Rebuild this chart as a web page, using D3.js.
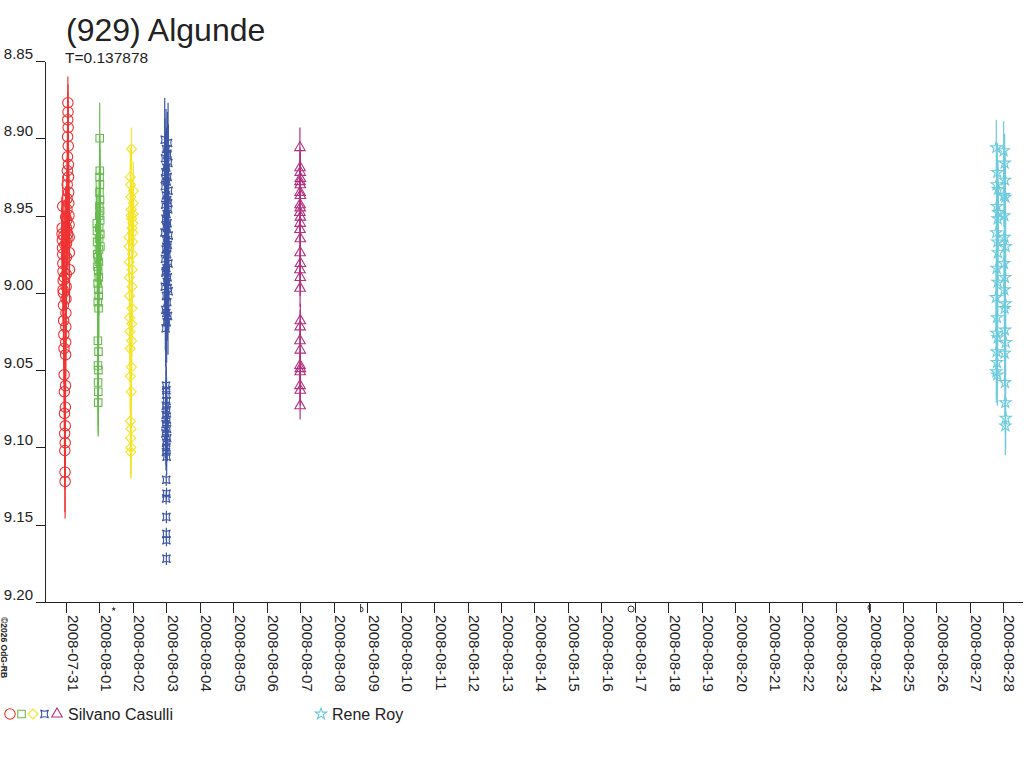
<!DOCTYPE html>
<html>
<head>
<meta charset="utf-8">
<script src="https://cdn.jsdelivr.net/npm/d3@7"></script>
<style>
  body{margin:0;background:#fff;}
  text{font-family:"Liberation Sans",Arial,sans-serif;fill:#222;}
</style>
</head>
<body>
<div id="container"></div>
<script>
let w=1024;
let h=768;

// times are days from 2008-07-31 00:00 UT, [t, mag, err]
let casulliRed = [
  [-0.120,8.962,0.022],[-0.115,8.958,0.020],[-0.110,8.966,0.021],[-0.105,8.971,0.020],
  [-0.100,8.975,0.022],[-0.095,8.981,0.021],[-0.090,8.986,0.020],[-0.085,8.992,0.022],
  [-0.080,9.000,0.021],[-0.075,9.008,0.022],[-0.070,9.018,0.023],[-0.065,9.027,0.022],
  [-0.060,9.036,0.023],[-0.055,9.053,0.024],[-0.050,9.064,0.024],[-0.045,9.078,0.025],
  [-0.040,9.091,0.025],[-0.035,9.102,0.025],[-0.030,9.116,0.026],[-0.027,9.122,0.024],
  [-0.024,9.097,0.025],[-0.021,9.086,0.024],[-0.018,9.074,0.024],[-0.015,9.060,0.023],
  [-0.012,9.040,0.023],[-0.009,9.032,0.022],[-0.006,9.022,0.022],[-0.003,9.013,0.021],
  [0.000,9.004,0.021],[0.004,8.996,0.020],[0.008,8.988,0.020],[0.012,8.977,0.020],
  [0.016,8.968,0.020],[0.020,8.960,0.019],[0.024,8.953,0.019],[0.028,8.946,0.019],
  [0.032,8.939,0.019],[0.036,8.930,0.018],[0.040,8.921,0.018],[0.044,8.912,0.018],
  [0.048,8.899,0.018],[0.052,8.888,0.018],[0.056,8.877,0.017],[0.060,8.883,0.018],
  [0.064,8.893,0.018],[0.068,8.905,0.018],[0.072,8.917,0.018],[0.076,8.925,0.019],
  [0.080,8.935,0.019],[0.084,8.942,0.019],[0.088,8.950,0.019],[0.092,8.956,0.020],
  [0.096,8.964,0.020],[0.100,8.974,0.020],[0.104,8.985,0.021],[-0.098,8.944,0.020],
  [-0.062,8.963,0.021],[-0.033,8.969,0.021],[0.010,8.958,0.020],[0.030,8.965,0.020],
  [-0.088,8.998,0.021],[-0.050,8.990,0.021],[0.050,8.962,0.020],[-0.010,8.951,0.020]
];

let casulliGreen = [
  [0.920,8.955,0.024],[0.925,8.960,0.024],[0.930,8.967,0.025],[0.935,8.975,0.025],
  [0.940,8.983,0.025],[0.945,8.994,0.026],[0.950,9.006,0.026],[0.953,9.031,0.027],
  [0.956,9.047,0.027],[0.959,9.058,0.028],[0.962,9.071,0.022],[0.965,9.064,0.027],
  [0.968,9.050,0.027],[0.971,9.038,0.027],[0.974,9.010,0.026],[0.977,9.002,0.026],
  [0.980,8.990,0.025],[0.983,8.980,0.025],[0.986,8.972,0.025],[0.989,8.965,0.024],
  [0.992,8.958,0.024],[0.995,8.950,0.024],[0.998,8.944,0.024],[1.001,8.935,0.023],
  [1.004,8.925,0.023],[1.007,8.900,0.023],[1.010,8.921,0.023],[1.013,8.930,0.023],
  [1.016,8.940,0.024],[1.019,8.947,0.024],[1.022,8.953,0.024],[1.025,8.962,0.024],
  [1.028,8.970,0.025],[0.951,8.977,0.025],[0.961,8.986,0.025],[0.970,8.998,0.026]
];

let casulliYellow = [
  [1.880,8.964,0.020],[1.885,8.970,0.020],[1.890,8.980,0.021],[1.895,8.990,0.021],
  [1.900,9.002,0.021],[1.905,9.016,0.022],[1.910,9.025,0.022],[1.915,9.036,0.022],
  [1.920,9.054,0.023],[1.925,9.083,0.023],[1.930,9.094,0.023],[1.935,9.103,0.017],
  [1.940,9.100,0.020],[1.945,9.088,0.023],[1.950,9.064,0.023],[1.955,9.048,0.023],
  [1.960,9.031,0.022],[1.965,9.020,0.022],[1.970,9.010,0.021],[1.975,8.996,0.021],
  [1.980,8.985,0.021],[1.985,8.975,0.020],[1.990,8.967,0.020],[1.995,8.961,0.020],
  [2.000,8.955,0.020],[2.005,8.949,0.020],[2.010,8.942,0.019],[2.015,8.934,0.019],
  [1.921,8.925,0.019],[1.931,8.930,0.019],[1.941,8.938,0.019],[1.951,8.946,0.020],
  [1.961,8.952,0.020],[1.971,8.958,0.020],[1.958,8.907,0.014],[1.948,8.950,0.020]
];

let casulliBlue = [
  [2.950,8.901,0.027],[3.050,8.903,0.026],[2.990,8.907,0.026],[3.030,8.910,0.027],
  [2.960,8.913,0.026],[3.060,8.916,0.025],[3.000,8.919,0.026],[2.970,8.922,0.026],
  [3.040,8.925,0.025],[3.010,8.928,0.026],[2.955,8.931,0.025],[3.065,8.934,0.026],
  [2.985,8.937,0.025],[3.025,8.940,0.025],[2.965,8.943,0.026],[3.055,8.946,0.025],
  [3.005,8.949,0.025],[2.975,8.952,0.026],[3.035,8.955,0.025],[3.015,8.958,0.025],
  [2.945,8.961,0.026],[3.070,8.963,0.025],[2.995,8.966,0.026],[3.045,8.969,0.025],
  [2.980,8.972,0.026],[3.020,8.975,0.025],[2.958,8.978,0.026],[3.062,8.981,0.025],
  [3.002,8.984,0.026],[2.972,8.987,0.025],[3.038,8.990,0.026],[3.012,8.993,0.025],
  [2.952,8.996,0.026],[3.068,8.999,0.025],[2.988,9.002,0.026],[3.028,9.006,0.025],
  [2.968,9.011,0.026],[3.048,9.015,0.025],[3.008,9.019,0.026],[2.978,9.023,0.025],
  [3.032,8.911,0.026],[2.962,8.926,0.025],[3.052,8.942,0.026],[2.992,8.957,0.025],
  [3.022,8.971,0.026],[2.982,8.986,0.025],[3.042,8.997,0.026],[2.998,9.013,0.025],
  [2.990,9.060,0.016],[3.000,9.063,0.015],[2.995,9.066,0.016],[3.005,9.070,0.015],
  [2.985,9.073,0.016],[3.010,9.076,0.015],[2.980,9.079,0.016],[3.015,9.082,0.015],
  [2.975,9.085,0.016],[3.020,9.088,0.015],[2.970,9.091,0.016],[3.025,9.094,0.015],
  [2.992,9.097,0.014],[3.002,9.100,0.013],[2.988,9.103,0.012],[3.008,9.106,0.012],
  [2.996,9.121,0.004],[3.004,9.130,0.004],[2.994,9.133,0.004],[3.000,9.145,0.004],
  [2.998,9.156,0.004],[3.002,9.160,0.004],[3.000,9.172,0.004]
];

let casulliPurple = [
  [6.990,8.906,0.013],[6.995,8.919,0.013],[7.000,8.922,0.013],[7.004,8.926,0.013],
  [6.992,8.928,0.013],[7.002,8.930,0.013],[6.996,8.935,0.013],[7.006,8.937,0.012],
  [6.994,8.943,0.012],[7.000,8.945,0.012],[6.990,8.948,0.012],[7.004,8.951,0.012],
  [6.998,8.955,0.012],[6.993,8.959,0.012],[7.002,8.965,0.012],[6.996,8.974,0.012],
  [7.005,8.981,0.012],[6.991,8.985,0.012],[7.000,8.990,0.012],[6.995,8.997,0.012],
  [7.003,9.018,0.011],[6.997,9.022,0.011],[6.992,9.031,0.011],[7.001,9.037,0.011],
  [6.994,9.047,0.010],[7.004,9.049,0.010],[6.998,9.051,0.010],[6.993,9.060,0.010],
  [7.002,9.063,0.010],[6.996,9.073,0.009]
];

let royCyan = [
  [27.80,8.906,0.018],[28.02,8.908,0.019],[28.05,8.916,0.019],[27.83,8.922,0.019],
  [28.06,8.927,0.019],[27.81,8.930,0.019],[27.85,8.933,0.019],[28.03,8.937,0.020],
  [28.07,8.938,0.020],[27.82,8.944,0.020],[27.86,8.948,0.020],[28.04,8.950,0.020],
  [27.84,8.952,0.020],[27.80,8.961,0.020],[28.05,8.964,0.020],[27.83,8.967,0.021],
  [28.08,8.970,0.021],[27.85,8.974,0.021],[28.03,8.981,0.021],[27.81,8.984,0.021],
  [28.06,8.990,0.021],[27.84,8.993,0.021],[28.04,8.998,0.021],[27.79,9.003,0.022],
  [28.07,9.007,0.022],[28.05,9.010,0.022],[27.82,9.016,0.022],[28.06,9.024,0.022],
  [27.80,9.026,0.022],[27.84,9.029,0.022],[28.08,9.032,0.021],[27.81,9.038,0.021],
  [28.05,9.039,0.021],[27.82,9.045,0.021],[27.80,9.051,0.020],[27.83,9.053,0.020],
  [28.06,9.058,0.020],[28.07,9.071,0.020],[28.08,9.081,0.020],[28.07,9.086,0.019]
];

// moon phases (UT)
let moonDates = ["2008-08-01T10:13Z","2008-08-08T20:20Z","2008-08-16T21:16Z","2008-08-23T23:50Z"];
let moonPhases = ["new","first","full","last"];

let yTicks = [8.85,8.90,8.95,9.00,9.05,9.10,9.15,9.20];
let xStart = "2008-07-30T02:29Z";
let xEnd = "2008-08-28T13:38Z";
let firstDay = "2008-07-31T00:00Z";
let lastDay = "2008-08-28T00:00Z";

let title = "(929) Algunde";
let subtitle = "T=0.137878";
let observers = ["Silvano Casulli","Rene Roy"];

let t0 = Date.parse(firstDay);
function tDate(t){
  return new Date(t0 + t*86400000);
}

// marker shapes
let quadStar = "M-4,-4Q0,-1.5 4,-4Q1.5,0 4,4Q0,1.5 -4,4Q-1.5,0 -4,-4Z";
let diamond = "M0,-5L5,0L0,5L-5,0Z";
let circleSym = d3.symbol().type(d3.symbolCircle).size(85)();
let squareSym = d3.symbol().type(d3.symbolSquare).size(56)();
let triSym = d3.symbol().type(d3.symbolTriangle).size(48)();
let starSym = d3.symbol().type(d3.symbolStar).size(40)();

let series = [
  {data:casulliRed, color:"#ee3333", shape:circleSym},
  {data:casulliGreen, color:"#66bb4c", shape:squareSym},
  {data:casulliYellow, color:"#f4e526", shape:diamond},
  {data:casulliBlue, color:"#3e56a6", shape:quadStar},
  {data:casulliPurple, color:"#b3307f", shape:triSym},
  {data:royCyan, color:"#6ccbdc", shape:starSym}
];

let viz = d3.select("#container")
  .append("svg")
    .attr("width",w)
    .attr("height",h)
    .style("background-color","#fff")
;

let x = d3.scaleUtc()
  .domain([new Date(xStart), new Date(xEnd)])
  .range([36,1022]);

let y = d3.scaleLinear()
  .domain([8.85,9.20])
  .range([61,602]);

// title
viz.append("text")
  .attr("x",66)
  .attr("y",41)
  .style("font-size","32px")
  .text(title);

viz.append("text")
  .attr("x",65)
  .attr("y",63)
  .style("font-size","15.5px")
  .text(subtitle);

// y axis
let yAxis = viz.append("g")
  .attr("transform","translate(45,0)")
  .call(d3.axisLeft(y).tickValues(yTicks).tickFormat(d3.format(".2f")).tickSize(9).tickSizeOuter(0));

yAxis.selectAll("text")
  .attr("x",-12)
  .attr("dy",-3)
  .style("font-size","15px")
  .style("fill","#222");

// x axis
let xAxis = viz.append("g")
  .attr("transform","translate(0,602)")
  .call(d3.axisBottom(x)
    .tickValues(d3.utcDay.range(new Date(firstDay), new Date(Date.parse(lastDay)+1)))
    .tickFormat(d3.utcFormat("%Y-%m-%d"))
    .tickSize(11)
    .tickSizeOuter(0));

xAxis.selectAll("text")
  .attr("transform","rotate(90)")
  .attr("x",13)
  .attr("y",-1)
  .attr("dy",0)
  .style("text-anchor","start")
  .style("font-size","15px")
  .style("fill","#222");

viz.selectAll(".domain, .tick line")
  .attr("stroke","#222")
  .attr("shape-rendering","crispEdges");

// y axis line has to reach the left end of the x axis line
viz.append("line")
  .attr("x1",36).attr("x2",45)
  .attr("y1",602.5).attr("y2",602.5)
  .attr("stroke","#222");

// moon phases on the time axis
let moons = viz.selectAll(".moon").data(moonDates).enter()
  .append("g")
    .attr("class","moon")
    .attr("transform",function(d){ return "translate("+x(new Date(d))+",609)"; });

moons.each(function(d,i){
  let g = d3.select(this);
  let p = moonPhases[i];
  if(p=="new"){
    g.append("path").attr("d",d3.symbol().type(d3.symbolStar).size(7)()).attr("fill","#333");
  }else if(p=="full"){
    g.append("circle").attr("r",3).attr("fill","none").attr("stroke","#333");
  }else if(p=="first"){
    g.append("line").attr("x1",-1.5).attr("x2",-1.5).attr("y1",-5).attr("y2",3).attr("stroke","#333");
    g.append("path").attr("d","M-1.5,-2A2.5,2.5 0 0 1 -1.5,3").attr("fill","none").attr("stroke","#333");
  }else if(p=="last"){
    g.append("line").attr("x1",1.5).attr("x2",1.5).attr("y1",-5).attr("y2",3).attr("stroke","#333");
    g.append("path").attr("d","M1.5,-4A2.5,2.5 0 0 0 1.5,1").attr("fill","none").attr("stroke","#333");
  }
});

// data
series.forEach(function(s){
  let grp = viz.append("g");
  grp.selectAll("line").data(s.data).enter()
    .append("line")
      .attr("x1",function(d){ return x(tDate(d[0])); })
      .attr("x2",function(d){ return x(tDate(d[0])); })
      .attr("y1",function(d){ return y(d[1]-d[2]); })
      .attr("y2",function(d){ return y(d[1]+d[2]); })
      .attr("stroke",s.color)
      .attr("stroke-width",1.2);
  grp.selectAll("path").data(s.data).enter()
    .append("path")
      .attr("d",s.shape)
      .attr("transform",function(d){ return "translate("+x(tDate(d[0]))+","+y(d[1])+")"; })
      .attr("fill","none")
      .attr("stroke",s.color)
      .attr("stroke-width",1.1);
});

// legend
let legend = viz.append("g").attr("transform","translate(0,714)");
let legendX = [10,21.5,33,44.5,57];
series.slice(0,5).forEach(function(s,i){
  legend.append("path")
    .attr("d",s.shape)
    .attr("transform","translate("+legendX[i]+",0)")
    .attr("fill","none")
    .attr("stroke",s.color)
    .attr("stroke-width",1.1);
});
legend.append("text").attr("x",68).attr("y",6).style("font-size","16px").text(observers[0]);
legend.append("path")
  .attr("d",series[5].shape)
  .attr("transform","translate(321,0)")
  .attr("fill","none")
  .attr("stroke",series[5].color)
  .attr("stroke-width",1.1);
legend.append("text").attr("x",332).attr("y",6).style("font-size","16px").text(observers[1]);

// copyright
viz.append("text")
  .attr("transform","translate(1,617) rotate(90)")
  .style("font-size","8.5px")
  .style("font-weight","bold")
  .text("\u00a92026 OdG-RB");
</script>
</body>
</html>
